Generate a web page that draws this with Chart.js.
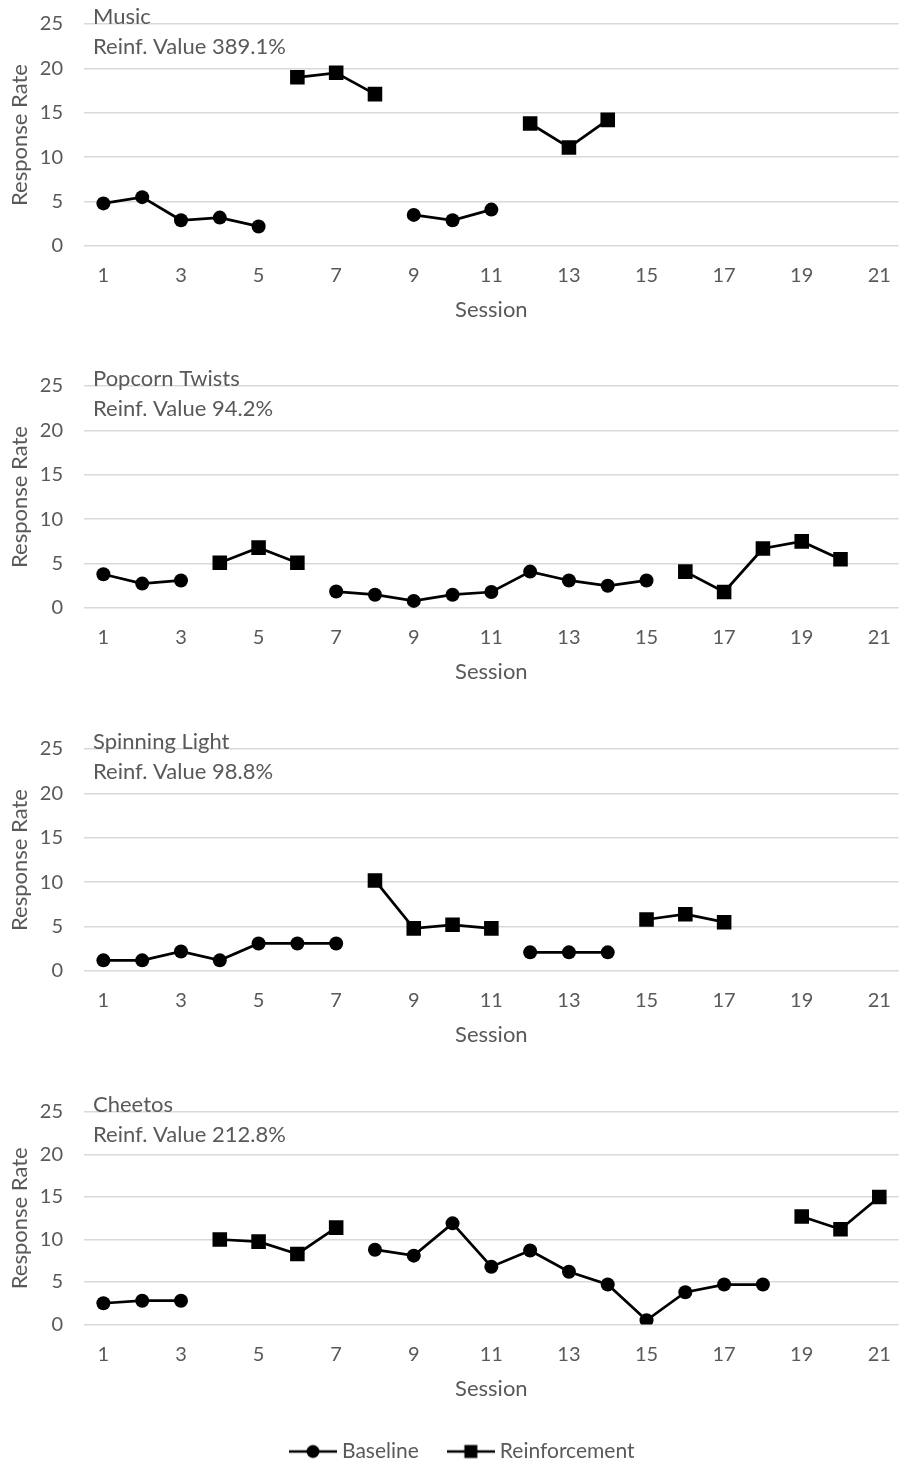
<!DOCTYPE html>
<html>
<head>
<meta charset="utf-8">
<script src="https://cdn.jsdelivr.net/npm/chart.js@4"></script>
<style>
  html, body { margin: 0; padding: 0; background: #fff; overflow: hidden; }
  body { width: 909px; height: 1464px; position: relative; }
  .panel { position: absolute; left: 0; width: 909px; }
</style>
</head>
<body>
<div class="panel" style="top:-9px;height:335px"><canvas id="c0"></canvas></div>
<div class="panel" style="top:353px;height:335px"><canvas id="c1"></canvas></div>
<div class="panel" style="top:716px;height:335px"><canvas id="c2"></canvas></div>
<div class="panel" style="top:1079px;height:393px"><canvas id="c3"></canvas></div>
<script>
const sessions = ['1','2','3','4','5','6','7','8','9','10','11','12','13','14','15','16','17','18','19','20','21'];
const yTicks = [0, 5, 10, 15, 20, 25];

const musicBaseline = [4.8, 5.5, 2.9, 3.2, 2.2, null, null, null, 3.5, 2.9, 4.1, null, null, null, null, null, null, null, null, null, null];
const musicReinf    = [null, null, null, null, null, 19.0, 19.5, 17.1, null, null, null, 13.8, 11.1, 14.2, null, null, null, null, null, null, null];

const popcornBaseline = [3.8, 2.75, 3.1, null, null, null, 1.85, 1.5, 0.8, 1.5, 1.8, 4.1, 3.1, 2.5, 3.1, null, null, null, null, null, null];
const popcornReinf    = [null, null, null, 5.1, 6.8, 5.1, null, null, null, null, null, null, null, null, null, 4.1, 1.8, 6.7, 7.5, 5.5, null];

const lightBaseline = [1.2, 1.2, 2.2, 1.2, 3.1, 3.1, 3.1, null, null, null, null, 2.1, 2.1, 2.1, null, null, null, null, null, null, null];
const lightReinf    = [null, null, null, null, null, null, null, 10.2, 4.8, 5.2, 4.8, null, null, null, 5.8, 6.4, 5.5, null, null, null, null];

const cheetosBaseline = [2.5, 2.8, 2.8, null, null, null, null, 8.8, 8.1, 11.9, 6.8, 8.7, 6.2, 4.7, 0.5, 3.8, 4.7, 4.7, null, null, null];
const cheetosReinf    = [null, null, null, 10.0, 9.75, 8.3, 11.4, null, null, null, null, null, null, null, null, null, null, null, 12.7, 11.2, 15.0];

const panelNames = ['Music', 'Popcorn Twists', 'Spinning Light', 'Cheetos'];
const reinfValues = ['Reinf. Value 389.1%', 'Reinf. Value 94.2%', 'Reinf. Value 98.8%', 'Reinf. Value 212.8%'];
const baselineSeries = [musicBaseline, popcornBaseline, lightBaseline, cheetosBaseline];
const reinfSeries = [musicReinf, popcornReinf, lightReinf, cheetosReinf];

const FONT = 'Lato, "Open Sans", sans-serif';
const GREY = '#595959';

// nombre del estímulo y valor, escrito dentro del área del gráfico
const panelText = {
  id: 'panelText',
  afterDraw(chart, args, opts) {
    const { ctx, chartArea } = chart;
    ctx.save();
    ctx.fillStyle = GREY;
    ctx.font = '22px ' + FONT;
    ctx.textBaseline = 'alphabetic';
    ctx.textAlign = 'left';
    ctx.fillText(opts.name, chartArea.left + 9, chartArea.top);
    ctx.fillText(opts.value, chartArea.left + 9, chartArea.top + 29.5);
    ctx.restore();
  }
};

// corre un poco la leyenda a la derecha, como en el original
const legendShift = {
  id: 'legendShift',
  afterLayout(chart) {
    if (chart.legend && chart.options.plugins.legend.display) {
      chart.legend.left += 10;
      chart.legend.right += 10;
    }
  }
};

function legendIcon(shape) {
  const c = document.createElement('canvas');
  c.width = 48; c.height = 16;
  const g = c.getContext('2d');
  g.strokeStyle = '#000'; g.fillStyle = '#000'; g.lineWidth = 2.5;
  g.beginPath(); g.moveTo(0, 8); g.lineTo(48, 8); g.stroke();
  if (shape === 'circle') {
    g.beginPath(); g.arc(24, 8, 6.5, 0, Math.PI * 2); g.fill();
  } else {
    g.fillRect(17.5, 1.5, 13, 13);
  }
  return c;
}
const legendIcons = [legendIcon('circle'), legendIcon('rect')];

panelNames.forEach((name, i) => {
  const last = i === panelNames.length - 1;
  new Chart(document.getElementById('c' + i), {
    type: 'line',
    data: {
      labels: sessions,
      datasets: [{
        label: 'Baseline',
        data: baselineSeries[i],
        borderColor: '#000',
        backgroundColor: '#000',
        borderWidth: 2.75,
        pointStyle: 'circle',
        pointRadius: 7,
        pointBorderWidth: 0,
        spanGaps: false,
        tension: 0
      }, {
        label: 'Reinforcement',
        data: reinfSeries[i],
        borderColor: '#000',
        backgroundColor: '#000',
        borderWidth: 2.75,
        pointStyle: 'rect',
        pointRadius: 10.3,
        pointBorderWidth: 0,
        spanGaps: false,
        tension: 0
      }]
    },
    options: {
      responsive: true,
      maintainAspectRatio: false,
      animation: false,
      layout: { padding: 0 },
      scales: {
        x: {
          offset: true,
          grid: { display: false },
          border: { display: false },
          ticks: {
            autoSkip: false, maxRotation: 0, padding: 10,
            color: GREY, font: { family: FONT, size: 20 },
            callback: (v, idx) => idx % 2 === 0 ? sessions[idx] : ''
          },
          title: {
            display: true, text: 'Session', color: GREY,
            font: { family: FONT, size: 22 }, padding: { top: 0, bottom: last ? 5 : 3 }
          },
          afterFit: (scale) => { scale.height = last ? 83 : 80; }
        },
        y: {
          min: 0, max: 25,
          afterBuildTicks: (scale) => { scale.ticks = yTicks.map(v => ({ value: v })); },
          grid: { color: '#d9d9d9', lineWidth: 1.5, drawTicks: false },
          border: { display: false },
          ticks: { padding: 21, color: GREY, font: { family: FONT, size: 20 } },
          title: {
            display: true, text: 'Response Rate', color: GREY,
            font: { family: FONT, size: 22 }, padding: { top: 7, bottom: 0 }
          },
          afterFit: (scale) => { scale.width = 84; }
        }
      },
      plugins: {
        tooltip: { enabled: false },
        panelText: { name: name, value: reinfValues[i] },
        legend: {
          display: last,
          position: 'bottom',
          labels: {
            usePointStyle: true,
            pointStyleWidth: 37,
            padding: 33.5,
            color: GREY,
            font: { family: FONT, size: 21 },
            generateLabels: (chart) => chart.data.datasets.map((ds, k) => ({
              text: ds.label,
              pointStyle: legendIcons[k],
              fillStyle: '#000',
              strokeStyle: '#000',
              lineWidth: 0,
              fontColor: GREY,
              datasetIndex: k
            }))
          }
        }
      }
    },
    plugins: [panelText, legendShift]
  });
});
</script>
</body>
</html>
